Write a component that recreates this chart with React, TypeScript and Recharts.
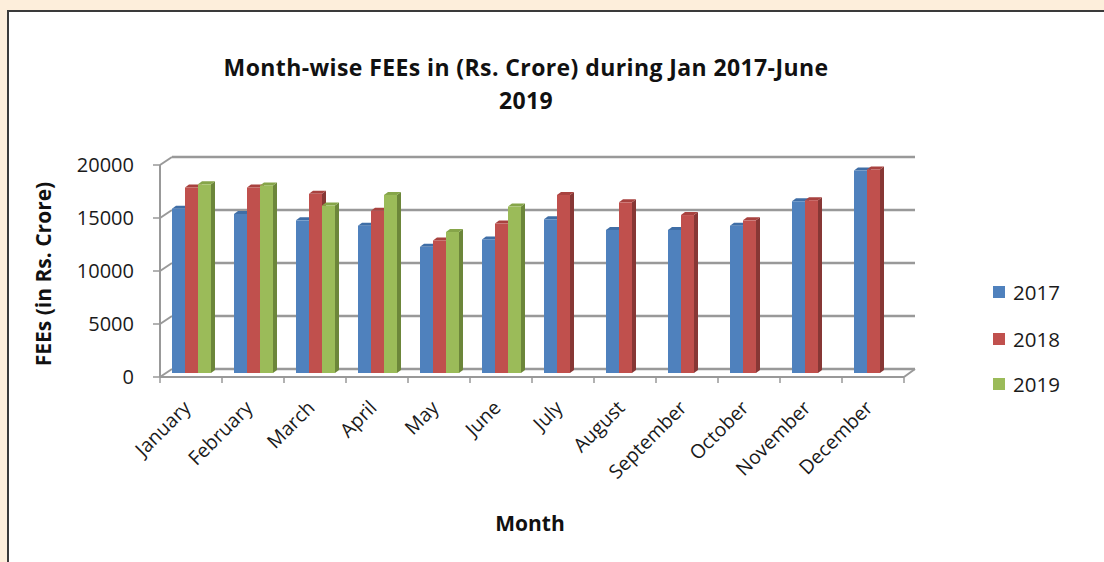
import { BarChart, Bar, XAxis, YAxis, CartesianGrid } from 'recharts';

const months = [
  'January', 'February', 'March', 'April', 'May', 'June',
  'July', 'August', 'September', 'October', 'November', 'December',
];
const fees2017 = [15500, 15000, 14400, 13900, 11900, 12600, 14500, 13500, 13500, 13900, 16200, 19100];
const fees2018 = [17500, 17500, 16900, 15300, 12500, 14100, 16800, 16100, 14900, 14400, 16300, 19200];
const fees2019: (number | null)[] = [17800, 17700, 15800, 16800, 13300, 15700, null, null, null, null, null, null];
const yTicks = [0, 5000, 10000, 15000, 20000];

const series = [
  { key: '2017', fill: '#4f81bd', top: '#3f6ea6', side: '#365c88' },
  { key: '2018', fill: '#c0504d', top: '#a8423f', side: '#873735' },
  { key: '2019', fill: '#9bbb59', top: '#86a549', side: '#6c863a' },
];

const data = months.map((m, i) => ({
  month: m,
  '2017': fees2017[i],
  '2018': fees2018[i],
  '2019': fees2019[i],
}));

const W = 1104;
const H = 562;
const margin = { top: 165, right: 200, bottom: 85, left: 80 };
const band = (W - margin.left - 80 - margin.right) / months.length;
// fake depth of the 3d look
const DX = 12;
const DY = 8;
const FONT = '"Open Sans", sans-serif';
const GRID = '#999999';

function Bar3D(props: any) {
  const { x, y, width, height, fill, top, side } = props;
  if (!height || height <= 0) return null;
  const bx = x + 1;
  const by = y - 4;
  const d = 4;
  const e = 3;
  return (
    <g>
      <polygon
        points={`${bx + width},${by} ${bx + width + d},${by - e} ${bx + width + d},${by + height - e} ${bx + width},${by + height}`}
        fill={side}
      />
      <polygon
        points={`${bx},${by} ${bx + d},${by - e} ${bx + width + d},${by - e} ${bx + width},${by}`}
        fill={top}
      />
      <rect x={bx} y={by} width={width} height={height} fill={fill} />
    </g>
  );
}

function GridLine(props: any) {
  const { x1, y1, x2, y, height } = props;
  const isFloor = Math.abs(y1 - (y + height)) < 1;
  return (
    <g>
      <line x1={x1} y1={y1} x2={x1 + DX} y2={y1 - DY} stroke={GRID} strokeWidth={2} />
      <line x1={x1 + DX} y1={y1 - DY} x2={x2 + DX - 1} y2={y1 - DY} stroke={GRID} strokeWidth={2.5} />
      {isFloor && (
        <line x1={x2} y1={y1} x2={x2 + DX - 1} y2={y1 - DY} stroke={GRID} strokeWidth={2} />
      )}
    </g>
  );
}

function MonthTick(props: any) {
  const { x, y, payload, index } = props;
  const last = index === months.length - 1;
  return (
    <g>
      <line x1={x - band / 2} y1={y} x2={x - band / 2} y2={y + 6} stroke={GRID} strokeWidth={1.5} />
      {last && <line x1={x + band / 2} y1={y} x2={x + band / 2} y2={y + 6} stroke={GRID} strokeWidth={1.5} />}
      <text
        x={x + 1}
        y={y + 32}
        textAnchor="end"
        transform={`rotate(-45 ${x + 1} ${y + 32})`}
        fontFamily={FONT}
        fontSize={19.5}
        fill="#1a1a1a"
      >
        {payload.value}
      </text>
    </g>
  );
}

export default function App() {
  return (
    <div
      style={{
        position: 'fixed',
        left: 0,
        top: 0,
        width: W,
        height: H,
        overflow: 'hidden',
        background: '#fdeedb',
        fontFamily: FONT,
      }}
    >
      <div
        style={{
          position: 'absolute',
          left: 7,
          top: 10,
          width: 1200,
          height: 700,
          border: '2px solid #3a3a3a',
          background: '#ffffff',
        }}
      />
      <div style={{ position: 'absolute', left: 0, top: 0 }}>
        <BarChart width={W} height={H} data={data} margin={margin} barCategoryGap={11} barGap={0}>
          <CartesianGrid vertical={false} horizontal={(p: any) => <GridLine {...p} />} />
          <XAxis
            dataKey="month"
            interval={0}
            height={100}
            tickSize={0}
            tickMargin={0}
            tickLine={false}
            axisLine={{ stroke: GRID, strokeWidth: 2 }}
            tick={(p: any) => <MonthTick {...p} />}
          />
          <YAxis
            width={80}
            domain={[0, 20000]}
            ticks={yTicks}
            interval={0}
            tickSize={7}
            tickMargin={19}
            axisLine={{ stroke: GRID, strokeWidth: 2 }}
            tickLine={{ stroke: GRID, strokeWidth: 1.5 }}
            tick={{ fontFamily: FONT, fontSize: 20, fill: '#1a1a1a' }}
          />
          {series.map((s) => (
            <Bar
              key={s.key}
              dataKey={s.key}
              fill={s.fill}
              isAnimationActive={false}
              shape={(p: any) => <Bar3D {...p} fill={s.fill} top={s.top} side={s.side} />}
            />
          ))}
        </BarChart>
      </div>
      <div
        style={{
          position: 'absolute',
          left: 150,
          width: 752,
          top: 51,
          textAlign: 'center',
          fontWeight: 700,
          fontSize: 23,
          letterSpacing: 0.4,
          lineHeight: '33px',
          color: '#111',
        }}
      >
        Month-wise FEEs in (Rs. Crore) during Jan 2017-June
        <br />
        2019
      </div>
      <div
        style={{
          position: 'absolute',
          left: 43,
          top: 274,
          transform: 'translate(-50%, -50%) rotate(-90deg)',
          whiteSpace: 'nowrap',
          fontWeight: 700,
          fontSize: 21,
          color: '#111',
        }}
      >
        FEEs (in Rs. Crore)
      </div>
      <div
        style={{
          position: 'absolute',
          left: 530,
          top: 523,
          transform: 'translate(-50%, -50%)',
          fontWeight: 700,
          fontSize: 21,
          color: '#111',
        }}
      >
        Month
      </div>
      {series.map((s, i) => (
        <div
          key={s.key}
          style={{
            position: 'absolute',
            left: 993,
            top: [292, 339, 384][i],
            transform: 'translateY(-50%)',
            display: 'flex',
            alignItems: 'center',
            fontSize: 20.5,
            color: '#1a1a1a',
          }}
        >
          <span style={{ width: 12, height: 12, background: s.fill, marginRight: 8, display: 'inline-block' }} />
          {s.key}
        </div>
      ))}
    </div>
  );
}
